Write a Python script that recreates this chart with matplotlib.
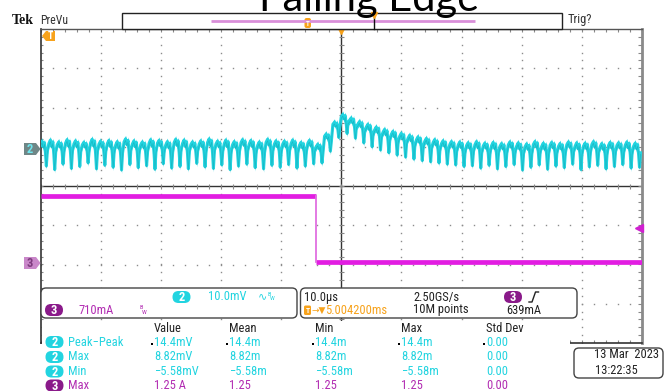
import numpy as np
import matplotlib
matplotlib.use('Agg')
import matplotlib.pyplot as plt
from matplotlib import font_manager
from matplotlib.patches import Rectangle, FancyBboxPatch, Polygon

# scope readouts use a narrow sans; take the narrowest one that is installed
installed = {f.name for f in font_manager.fontManager.ttflist}
ui_font = next((n for n in ['Liberation Sans Narrow', 'Roboto Condensed', 'Open Sans Condensed',
                            'Liberation Sans', 'Roboto'] if n in installed), 'DejaVu Sans')
plt.rcParams['font.family'] = [ui_font, 'DejaVu Sans']

# ---- data ----
# channel 2 (10 mV/div): ripple peak and dip per switching cycle, in mV
ch2_peak_mv = [2.0, 2.3, 1.8, 2.4, 2.1, 1.7, 2.5, 2.0, 2.2, 1.9, 2.6, 2.1, 1.8, 2.4, 2.2, 1.9, 2.5,
               2.3, 1.8, 2.1, 2.6, 2.0, 2.3, 1.9, 2.4, 2.2, 1.8, 2.5, 2.1, 2.0, 2.3, 1.7, 2.2,
               1.2, 3.8, 6.8, 8.8, 7.9, 7.0, 6.3, 5.6, 5.0, 4.5, 4.0, 3.5, 3.1, 2.7, 2.4, 2.1,
               1.9, 1.8, 1.6, 1.9, 1.5, 1.7, 1.4, 1.8, 1.6, 1.3, 1.9, 1.5, 1.7, 1.4, 1.8, 1.6,
               1.5, 1.9, 1.4, 1.7, 1.6, 1.8, 1.5]
ch2_dip_mv = [-4.3, -5.2, -3.8, -4.9, -4.4, -3.5, -5.0, -4.1, -4.6, -5.3, -3.9, -4.7, -4.2, -5.1,
              -3.7, -4.8, -4.4, -5.0, -3.6, -4.5, -4.9, -4.0, -5.2, -4.3, -3.8, -4.7, -5.0, -4.1,
              -4.6, -3.9, -4.8, -4.3, -3.7,
              -3.5, -0.5, 3.0, 4.0, 2.8, 1.6, 0.6, -0.2, -0.9, -1.5, -2.0, -2.5, -2.9, -3.2, -3.5,
              -3.8, -4.0, -4.4, -4.2, -4.8, -4.1, -5.0, -4.4, -3.9, -5.3, -4.6, -4.0, -5.1, -4.3,
              -4.7, -3.8, -5.2, -4.5, -4.1, -5.0, -4.4, -3.9, -4.8, -4.6]
# shape of one ripple cycle: phase (fraction of period) and depth (0 = peak, 1 = dip)
ripple_phase = [0.0, 0.18, 0.34, 0.48, 0.6, 0.7, 0.82]
ripple_depth = [0.12, 0.0, 0.22, 0.06, 0.5, 1.0, 0.4]

# channel 3 (710 mA/div): current step, time in us, amps
ch3_t = [-50, -4.16, -4.16, 50]
ch3_a = [1.21, 1.21, 0.01, 0.01]

ch2_scale, ch2_offset = 10.0, 0.94     # mV/div, div
ch3_scale, ch3_offset = 0.71, -1.96    # A/div, div
trig_level = 0.639                     # A

headers = ['Value', 'Mean', 'Min', 'Max', 'Std Dev']
row_ch = ['2', '2', '2', '3']
row_names = ['Peak\u2212Peak', 'Max', 'Min', 'Max']
row_values = [['14.4mV', '14.4m', '14.4m', '14.4m', '0.00'],
              ['8.82mV', '8.82m', '8.82m', '8.82m', '0.00'],
              ['\u22125.58mV', '\u22125.58m', '\u22125.58m', '\u22125.58m', '0.00'],
              ['1.25 A', '1.25', '1.25', '1.25', '0.00']]

CYAN = '#22D4E0'
CYAN_DARK = '#0F97A2'
MAGENTA = '#E21DE2'
PURPLE_TXT = '#B22CB2'
PURPLE_FILL = '#8A1A8A'
ORANGE = '#F7A21B'
INK = '#222222'

# ---- build the ch2 trace from the per-cycle readings ----
period = 100.0 / len(ch2_peak_mv)
t2, v2 = [], []
for k in range(len(ch2_peak_mv)):
    t0 = -50 + k * period
    pk, dp = ch2_peak_mv[k], ch2_dip_mv[k]
    for f, s in zip(ripple_phase, ripple_depth):
        t2.append(t0 + f * period)
        v2.append(pk - s * (pk - dp))
t2 = np.array(t2)
y2 = np.array(v2) / ch2_scale + ch2_offset
y3 = np.array(ch3_a) / ch3_scale + ch3_offset

fig = plt.figure(figsize=(6.67, 3.91), dpi=100)

# graticule axes
L, R, T, B = 40.5, 642, 29, 343
ax = fig.add_axes([L / 667, 1 - B / 391, (R - L) / 667, (B - T) / 391])
ax.set_xlim(-50, 50)
ax.set_ylim(-4, 4)
ax.set_xticks([])
ax.set_yticks([])
ax.set_zorder(1)
for side, c, w in [('left', '#333333', 1.2), ('top', '#555555', 1.0),
                   ('bottom', '#333333', 1.2), ('right', '#8a8a8a', 2.0)]:
    ax.spines[side].set_color(c)
    ax.spines[side].set_linewidth(w)

dx = 100 / (R - L)
dy = 8 / (B - T)
gx = np.arange(-50, 50.01, 2)
gy = np.arange(-4, 4.01, 0.2)
for xv in range(-40, 41, 10):
    if xv != 0:
        ax.plot(np.full(gy.size, xv), gy, ls='none', marker='s', ms=1.0, mew=0, color='#8c8c8c')
for yv in range(-3, 4):
    if yv != 0:
        ax.plot(gx, np.full(gx.size, yv), ls='none', marker='s', ms=1.0, mew=0, color='#8c8c8c')
ax.axhline(0, color='#333333', lw=1.0)
ax.axvline(0, color='#333333', lw=1.0)
ax.vlines(gx, -2.5 * dy, 2.5 * dy, color='#888888', lw=0.8)
ax.hlines(gy, -2.5 * dx, 2.5 * dx, color='#888888', lw=0.8)
ax.vlines(gx, 4 - 3 * dy, 4, color='#888888', lw=0.8)
ax.vlines(gx, -4, -4 + 3 * dy, color='#888888', lw=0.8)
ax.hlines(gy, -50, -50 + 3 * dx, color='#888888', lw=0.8)
ax.hlines(gy, 50 - 4 * dx, 50, color='#888888', lw=0.8)

# traces
ax.fill_between(t2, y2 - 0.09, y2 + 0.09, color=CYAN, lw=0, zorder=4)
ax.plot(t2, y2, color=CYAN, lw=2.2, zorder=5)
ax.plot(t2, y2 - 0.04, color=CYAN_DARK, lw=0.5, alpha=0.45, zorder=6)
ax.plot(ch3_t[0:2], y3[0:2], color=MAGENTA, lw=3.4, solid_capstyle='butt', zorder=5)
ax.plot(ch3_t[2:4], y3[2:4], color=MAGENTA, lw=3.4, solid_capstyle='butt', zorder=5)
ax.plot(ch3_t[1:3], y3[1:3], color='#E070E0', lw=1.3, zorder=5)

# trigger position and level markers
ax.plot([0], [4], marker='v', ms=7, color=ORANGE, clip_on=False, zorder=8)
ax.plot([50 - 3 * dx], [trig_level / ch3_scale + ch3_offset], marker='<', ms=6,
        color='#D020D0', clip_on=False, zorder=8)

# overlay for screen furniture (pixel coordinates)
ui = fig.add_axes([0, 0, 1, 1])
ui.set_xlim(0, 667)
ui.set_ylim(391, 0)
ui.axis('off')
ui.patch.set_visible(False)
ui.set_zorder(2)

fig.text(369 / 667, 1 - 11 / 391, 'Falling Edge', ha='center', va='baseline',
         fontsize=30, family=['Lato', 'DejaVu Sans'], color='black', zorder=10)

ui.text(12, 20, 'Tek', fontsize=10, fontweight='bold', family=['Liberation Serif', 'DejaVu Serif'],
        va='center', color='#111111')
ui.text(40, 20, 'PreVu', fontsize=8.5, va='center', color='#333333')
ui.add_patch(Rectangle((122, 13), 440, 16, fc='white', ec='#222222', lw=1))
ui.plot([211, 475], [20.5, 20.5], color='#D98FD9', lw=2, solid_capstyle='butt')
ui.add_patch(FancyBboxPatch((304.5, 18), 6.5, 10, boxstyle='round,pad=0,rounding_size=2',
                            fc=ORANGE, ec='none'))
ui.text(307.8, 23.5, 'T', fontsize=5, color='white', ha='center', va='center', fontweight='bold')
ui.plot([374, 374], [13, 29], color='#111111', lw=1)
ui.plot([374], [14.5], marker='v', ms=4, color=ORANGE)
ui.text(568, 20, 'Trig?', fontsize=9, va='center', color='#333333')

# orange T at top left of graticule
ui.add_patch(Polygon([(42, 36), (46, 31), (55, 31), (55, 41), (46, 41)], closed=True,
                     fc=ORANGE, ec='none'))
ui.text(50.5, 36, 'T', fontsize=7, color='white', ha='center', va='center', fontweight='bold')

# channel ground markers
ui.add_patch(Polygon([(24, 143), (36, 143), (40.5, 149), (36, 155), (24, 155)], closed=True,
                     fc='#6f8787', ec='none'))
ui.text(30, 149.5, '2', fontsize=9, color='#6fe6ee', ha='center', va='center', fontweight='bold')
ui.add_patch(Polygon([(24, 257), (36, 257), (40.5, 263), (36, 269), (24, 269)], closed=True,
                     fc='#c987c9', ec='none'))
ui.text(30, 263.5, '3', fontsize=9, color='#7d3a7d', ha='center', va='center', fontweight='bold')


def pill(x, y, label, fc):
    ui.add_patch(FancyBboxPatch((x - 9, y - 6), 18, 12, boxstyle='round,pad=0,rounding_size=6',
                                fc=fc, ec='none', zorder=3))
    ui.text(x, y + 0.5, label, color='white', ha='center', va='center', fontsize=9,
            fontweight='bold', zorder=4)


# readout boxes
for x0, x1 in [(41, 297), (300.5, 577)]:
    ui.add_patch(FancyBboxPatch((x0, 288), x1 - x0, 30, boxstyle='round,pad=0,rounding_size=5',
                                fc='white', ec='#444444', lw=1))
fs = 9
pill(181.5, 297, '2', CYAN)
ui.text(208, 297, '10.0mV', color=CYAN, fontsize=fs, va='center')
ui.text(258, 296.5, '\u223f', color=CYAN, fontsize=8, va='center', family='DejaVu Sans')
ui.text(267, 294.5, 'B', color=CYAN, fontsize=4.5, va='center')
ui.text(270, 299, 'W', color=CYAN, fontsize=4.5, va='center')
pill(54, 310, '3', PURPLE_FILL)
ui.text(78, 310, '710mA', color=PURPLE_TXT, fontsize=fs, va='center')
ui.text(139, 307.5, 'B', color=PURPLE_TXT, fontsize=4.5, va='center')
ui.text(142, 312, 'W', color=PURPLE_TXT, fontsize=4.5, va='center')

ui.text(304, 297, '10.0\u00b5s', color=INK, fontsize=fs, va='center')
ui.text(413, 297, '2.50GS/s', color=INK, fontsize=fs, va='center')
pill(513, 297, '3', PURPLE_FILL)
ui.plot([529, 532, 535.5, 538.5], [302, 302, 292, 292], color=INK, lw=1)
ui.add_patch(FancyBboxPatch((304, 305.5), 7, 9.5, boxstyle='round,pad=0,rounding_size=1.5',
                            fc=ORANGE, ec='none'))
ui.text(307.5, 310.5, 'T', fontsize=5.5, color='white', ha='center', va='center', fontweight='bold')
ui.text(311.5, 310, '\u2192\u25bc', color=ORANGE, fontsize=6.5, va='center', family='DejaVu Sans')
ui.text(325, 310, '5.004200ms', color=ORANGE, fontsize=fs, va='center')
ui.text(413, 310, '10M points', color=INK, fontsize=fs, va='center')
ui.text(506, 310, '639mA', color=INK, fontsize=fs, va='center')

# measurement table
ui.add_patch(Rectangle((41.8, 320.5), 528, 72, fc='white', ec='none', zorder=1))
col_x = [154, 229, 315, 401, 486]
row_y = [342, 357, 371.5, 385.5]
for x, h in zip(col_x, headers):
    ui.text(x, 328, h, color=INK, fontsize=fs, va='center', zorder=3)
for i, y in enumerate(row_y):
    is_ch3 = row_ch[i] == '3'
    tc = PURPLE_TXT if is_ch3 else CYAN
    pill(54.5, y, row_ch[i], PURPLE_FILL if is_ch3 else CYAN)
    ui.text(68, y, row_names[i], color=tc, fontsize=fs, va='center', zorder=3)
    for x, val in zip(col_x, row_values[i]):
        ui.text(x, y, val, color=tc, fontsize=fs, va='center', zorder=3)
        if i == 0:
            ui.plot([x - 2.5], [y + 2], marker='s', ms=1.5, mew=0, color='black', zorder=3)

# date box
ui.add_patch(FancyBboxPatch((574, 348), 89, 30, boxstyle='round,pad=0,rounding_size=5',
                            fc='white', ec='#444444', lw=1))
ui.text(659, 355, '13 Mar  2023', color=INK, fontsize=fs, va='center', ha='right')
ui.text(595, 370, '13:22:35', color=INK, fontsize=fs, va='center')

fig.savefig('out.png', dpi=100, facecolor='white')
